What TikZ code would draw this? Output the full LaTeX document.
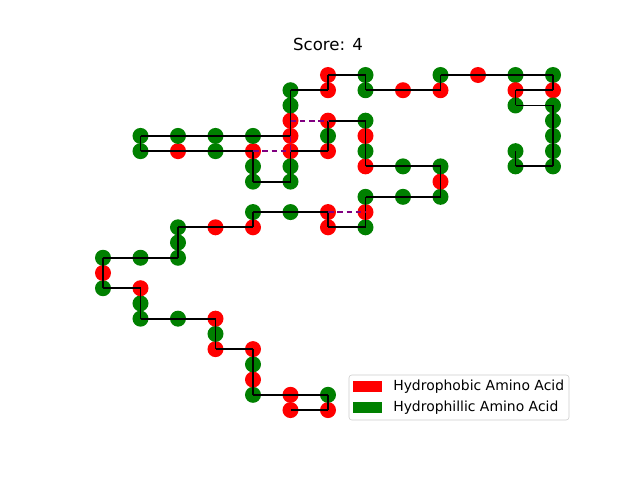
\documentclass[tikz,border=0pt]{standalone}
\usepackage{fontspec}
\setmainfont{DejaVu Sans}
\usetikzlibrary{positioning}
\definecolor{hpH}{RGB}{255,0,0}
\definecolor{hpP}{RGB}{0,128,0}
\definecolor{hpContact}{RGB}{128,0,128}
\definecolor{hpFrame}{RGB}{204,204,204}

\begin{document}
\begin{tikzpicture}[x=0.025cm, y=-0.025cm,
  residue/.style={circle, inner sep=0pt, minimum size=0.4cm},
  bond/.style={black, line width=1.3pt},
  contact/.style={hpContact, line width=1.3pt, dash pattern=on 4pt off 2.6pt},
  legendtext/.style={anchor=west, inner sep=0pt, font=\fontsize{9.9}{12}\selectfont}]
  \useasboundingbox (0,0) rectangle (640,480);

  % Title
  \node[font=\fontsize{11.8}{14}\selectfont] (title) at (328,44) {Score: 4};

  % Residues on the lattice (column/row/type)
  \foreach \i/\j/\c [count=\k] in {
      5/22/H, 6/22/H, 6/21/P, 5/21/H, 4/21/P, 4/20/H, 4/19/P, 4/18/H,
      3/18/H, 3/17/P, 3/16/H, 2/16/P, 1/16/P, 1/15/P, 1/14/H, 0/14/P,
      0/13/H, 0/12/P, 1/12/P, 2/12/P, 2/11/P, 2/10/P, 3/10/H, 4/10/H,
      4/9/P, 5/9/P, 6/9/H, 6/10/H, 7/10/P, 7/9/H, 7/8/P, 8/8/P,
      9/8/P, 9/7/H, 9/6/P, 8/6/P, 7/6/H, 7/5/P, 7/4/H, 7/3/P,
      6/3/H, 6/4/P, 6/5/H, 5/5/H, 5/6/P, 5/7/P, 4/7/P, 4/6/P,
      4/5/H, 3/5/P, 2/5/H, 1/5/P, 1/4/P, 2/4/P, 3/4/P, 4/4/P,
      5/4/H, 5/3/H, 5/2/P, 5/1/P, 6/1/H, 6/0/H, 7/0/P, 7/1/P,
      8/1/H, 9/1/H, 9/0/P, 10/0/H, 11/0/P, 12/0/P, 12/1/H, 11/1/H,
      11/2/P, 12/2/P, 12/3/P, 12/4/P, 12/5/P, 12/6/P, 11/6/P, 11/5/P}
    \node[residue, fill=hp\c] (p\k) at ({103+37.5*\i},{75+15.23*\j}) {};

  % Backbone
  \foreach \k [evaluate=\k as \n using int(\k+1)] in {1,...,79}
    \draw[bond] (p\k.center) -- (p\n.center);

  % H-H contacts
  \draw[contact] (p58.center) -- (p41.center);
  \draw[contact] (p49.center) -- (p44.center);
  \draw[contact] (p57.center) -- (p44.center);
  \draw[contact] (p27.center) -- (p30.center);

  % Legend
  \draw[hpFrame, fill=white, rounded corners=2pt] (349,375) rectangle (569,420);
  \fill[hpH] (353,381) rectangle (382,392);
  \fill[hpP] (353,402) rectangle (382,413);
  \node[legendtext] (keyH) at (393,386.5) {Hydrophobic Amino Acid};
  \node[legendtext] (keyP) at (393,407.5) {Hydrophillic Amino Acid};
\end{tikzpicture}
\end{document}
